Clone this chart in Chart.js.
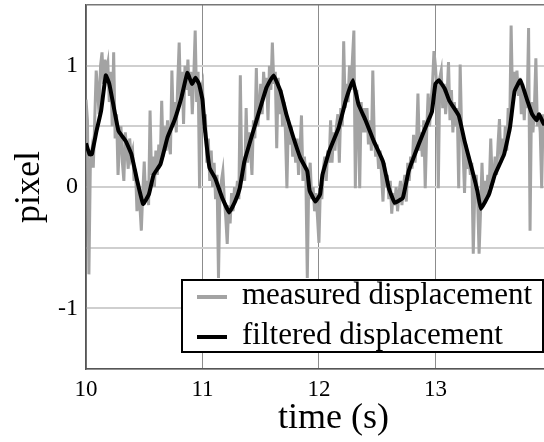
<!DOCTYPE html>
<html>
<head>
<meta charset="utf-8">
<script src="https://cdn.jsdelivr.net/npm/chart.js@4/dist/chart.umd.min.js"></script>
<style>
  html, body { margin: 0; padding: 0; overflow: hidden; background: #fff; }
  #wrap { width: 544px; height: 442px; overflow: hidden; }
</style>
</head>
<body>
<div id="wrap"><canvas id="dispChart" width="585" height="442"></canvas></div>
<script>
// measured displacement, one sample every 0.0125 s starting at t = 10 s
const measuredStart = 10;
const measuredStep = 0.0125;
const measuredDisp = [
    0.72, 0.55, -0.72, 0.20, 0.30, 0.16, 0.55, 0.96,   // 10.0
    0.80, 0.60, 1.00, 1.11, 0.85, 1.05, 0.95, 1.02,    // 10.1
    0.70, 0.95, 0.50, 1.11, 0.40, 0.60, 0.10, 0.35,    // 10.2
    0.50, 0.20, 0.05, 0.45, 0.30, 0.15, 0.40, 0.25,    // 10.3
    0.30, 0.05, 0.15, -0.20, 0.00, -0.15, -0.36, -0.05, // 10.4
    0.21, -0.10, 0.05, -0.15, 0.63, 0.10, 0.25, 0.00,  // 10.5
    0.30, 0.10, 0.35, 0.20, 0.71, 0.25, 0.50, 0.30,    // 10.6
    0.55, 0.35, 0.27, 0.96, 0.50, 0.70, 0.45, 0.85,    // 10.7
    1.19, 0.70, 0.95, 0.52, 1.00, 0.80, 1.05, 0.75,    // 10.8
    0.95, 0.60, 0.90, 1.29, 0.70, 0.95, -0.01, 0.80,   // 10.9
    0.85, 0.45, 0.60, 0.20, 0.40, 0.05, 0.30, 0.00,    // 11.0
    0.20, -0.10, 0.10, -0.75, -0.05, 0.05, 0.13, -0.10, // 11.1
    -0.25, -0.47, -0.15, -0.30, -0.05, -0.20, 0.00, -0.10, // 11.2
    0.05, -0.10, 0.92, 0.10, 0.25, 0.05, 0.65, 0.20,   // 11.3
    0.45, 0.30, 0.10, 0.55, 0.40, 0.98, 0.50, 0.65,    // 11.4
    0.85, 0.60, 0.95, 0.75, 0.90, 0.55, 1.00, 0.80,    // 11.5
    1.19, 0.85, 0.95, 0.32, 0.90, 0.60, 0.80, 0.50,    // 11.6
    0.70, 0.45, -0.01, 0.55, 0.35, 0.50, 0.25, 0.40,   // 11.7
    0.20, 0.40, 0.10, 0.30, 0.59, 0.05, 0.25, 0.10,    // 11.8
    -0.75, 0.05, 0.20, -0.10, 0.00, -0.20, -0.05, -0.25, // 11.9
    -0.46, 0.00, -0.10, 0.15, 0.25, 0.05, 0.30, 0.20,  // 12.0
    0.55, 0.20, 0.45, 0.30, 0.50, 0.60, 0.20, 0.65,    // 12.1
    0.50, 1.20, 0.65, 0.85, 0.70, 1.00, 0.80, 1.05,    // 12.2
    1.29, -0.01, 0.80, 0.60, -0.01, 0.70, 0.45, 0.65,  // 12.3
    0.45, 0.65, 0.35, 0.55, 0.30, 0.96, 0.40, 0.25,    // 12.4
    0.35, 0.15, 0.30, 0.10, -0.12, 0.20, 0.00, 0.10,   // 12.5
    -0.10, 0.05, -0.22, -0.05, -0.15, 0.00, -0.20, -0.05, // 12.6
    0.05, -0.15, 0.00, 0.10, -0.12, 0.20, 0.05, 0.25,  // 12.7
    0.15, 0.43, 0.20, 0.35, 0.77, 0.30, 0.45, 0.25,    // 12.8
    0.55, -0.01, 0.45, 0.77, 0.50, 0.70, 0.85, 1.12,   // 12.9
    1.00, 0.80, -0.01, 0.90, 0.96, 0.65, 0.85, 0.60,   // 13.0
    0.75, 1.03, 0.55, 0.80, 0.45, 0.70, 0.50, 0.65,    // 13.1
    -0.01, 1.01, 0.45, 0.30, -0.05, 0.35, 0.15, 0.25,  // 13.2
    0.10, 0.20, -0.55, -0.05, 0.10, -0.10, -0.55, -0.20, // 13.3
    0.20, -0.15, 0.05, -0.10, 0.10, 0.00, 0.40, 0.05,  // 13.4
    0.05, 0.25, 0.10, 0.35, 0.56, 0.20, 0.40, 0.25,    // 13.5
    0.50, 0.30, 0.65, 0.45, 1.33, 0.70, 0.95, 0.80,    // 13.6
    0.96, 0.75, 0.90, 0.60, 0.85, 0.55, 0.80, 0.65,    // 13.7
    1.31, -0.36, 0.70, 0.45, 0.65, 1.06, 0.50, 0.60,   // 13.8
    0.45, -0.01, 0.60, 0.50, 0.65, 0.45, 0.60, 0.55,   // 13.9
    0.55
];

// filtered displacement (time in s, displacement in pixel)
const filteredTime = [
    10.00, 10.03, 10.05, 10.09, 10.13, 10.17, 10.20, 10.24, 10.28, 10.34,
    10.39, 10.44, 10.49, 10.54, 10.58, 10.64, 10.70, 10.76, 10.82, 10.87,
    10.91, 10.94, 10.97, 11.00, 11.02, 11.06, 11.11, 11.17, 11.23, 11.28,
    11.32, 11.36, 11.42, 11.48, 11.55, 11.61, 11.67, 11.72, 11.78, 11.84,
    11.90, 11.92, 11.97, 12.01, 12.03, 12.09, 12.17, 12.23, 12.29, 12.34,
    12.40, 12.47, 12.55, 12.60, 12.65, 12.72, 12.77, 12.86, 12.94, 12.97,
    13.00, 13.03, 13.08, 13.12, 13.20, 13.25, 13.31, 13.36, 13.39, 13.46,
    13.51, 13.59, 13.64, 13.68, 13.73, 13.79, 13.83, 13.87, 13.89, 13.93,
    13.96
];
const filteredDisp = [
    0.36, 0.27, 0.27, 0.46, 0.63, 0.92, 0.85, 0.65, 0.46, 0.38,
    0.27, 0.05, -0.14, -0.06, 0.10, 0.19, 0.41, 0.55, 0.74, 0.94,
    0.85, 0.90, 0.85, 0.72, 0.49, 0.16, 0.07, -0.09, -0.21, -0.12,
    -0.01, 0.21, 0.41, 0.60, 0.82, 0.92, 0.79, 0.60, 0.41, 0.24,
    0.13, -0.03, -0.12, -0.06, 0.10, 0.30, 0.49, 0.71, 0.88, 0.68,
    0.55, 0.38, 0.21, -0.01, -0.13, -0.09, 0.13, 0.36, 0.55, 0.62,
    0.85, 0.88, 0.81, 0.71, 0.59, 0.38, 0.16, -0.03, -0.18, -0.06,
    0.10, 0.27, 0.49, 0.79, 0.88, 0.71, 0.60, 0.55, 0.60, 0.52,
    0.54
];

const seriesLabels = ['measured displacement', 'filtered displacement'];
const xTicks = [10, 11, 12, 13];
const yTicks = [-1, 0, 1];

const serif = "'Liberation Serif', 'DejaVu Serif', serif";

const measuredPoints = measuredDisp.map((v, i) => ({ x: measuredStart + i * measuredStep, y: v }));
const filteredPoints = filteredTime.map((t, i) => ({ x: t, y: filteredDisp[i] }));

// legend box drawn inside the plot, bottom right
const boxLegend = {
    id: 'boxLegend',
    afterDraw(chart) {
        const c = chart.ctx;
        const left = 182, top = 280, right = 543, bottom = 352;
        c.save();
        c.fillStyle = '#fff';
        c.fillRect(left, top, right - left, bottom - top);
        c.strokeStyle = '#000';
        c.lineWidth = 2;
        c.strokeRect(left, top, right - left, bottom - top);
        c.font = '31px ' + serif;
        c.textBaseline = 'alphabetic';
        chart.data.datasets.forEach((ds, i) => {
            const y = 297 + i * 40;
            c.strokeStyle = ds.borderColor;
            c.lineWidth = 4;
            c.beginPath();
            c.moveTo(197, y);
            c.lineTo(227, y);
            c.stroke();
            c.fillStyle = '#000';
            c.fillText(ds.label, 242, y + 7);
        });
        c.restore();
    }
};

const ctx = document.getElementById('dispChart').getContext('2d');
const chart = new Chart(ctx, {
    type: 'line',
    data: {
        datasets: [
            {
                label: seriesLabels[0],
                data: measuredPoints,
                borderColor: '#a3a3a3',
                borderWidth: 3,
                pointRadius: 0,
                tension: 0,
                order: 2
            },
            {
                label: seriesLabels[1],
                data: filteredPoints,
                borderColor: '#000',
                borderWidth: 4,
                pointRadius: 0,
                tension: 0.1,
                order: 1
            }
        ]
    },
    options: {
        responsive: false,
        animation: false,
        layout: { padding: { top: 5, right: 4, left: 0, bottom: 0 } },
        plugins: {
            legend: { display: false },
            tooltip: { enabled: false }
        },
        scales: {
            x: {
                type: 'linear',
                min: 10,
                max: 14.25,
                afterFit: s => {
                    s.height = 73;
                    s.paddingLeft = 0;
                    s.paddingRight = 0;
                },
                afterBuildTicks: s => { s.ticks = xTicks.map(v => ({ value: v })); },
                grid: {
                    color: '#8c8c8c',
                    lineWidth: 1,
                    drawTicks: false
                },
                border: { color: '#555', width: 1.5 },
                ticks: {
                    color: '#000',
                    font: { family: serif, size: 23 },
                    padding: 7
                },
                title: {
                    display: true,
                    text: 'time (s)',
                    color: '#000',
                    font: { family: serif, size: 36 },
                    padding: { top: 0, bottom: 2 }
                }
            },
            y: {
                min: -1.5,
                max: 1.5,
                afterFit: s => {
                    s.width = 86;
                    s.paddingTop = 0;
                    s.paddingBottom = 0;
                },
                ticks: {
                    stepSize: 0.5,
                    color: '#000',
                    font: { family: serif, size: 24 },
                    padding: 8,
                    callback: v => yTicks.includes(v) ? String(v) : ''
                },
                grid: {
                    color: c => c.tick && c.tick.value === 1.5 ? '#777' : '#cfcfcf',
                    lineWidth: c => c.tick && c.tick.value === 1.5 ? 1.5 : 2,
                    drawTicks: false
                },
                border: { color: '#555', width: 1.5 },
                title: {
                    display: true,
                    text: 'pixel',
                    color: '#000',
                    font: { family: serif, size: 36 },
                    padding: { top: 8, bottom: 0 }
                }
            }
        }
    },
    plugins: [boxLegend]
});
</script>
</body>
</html>
